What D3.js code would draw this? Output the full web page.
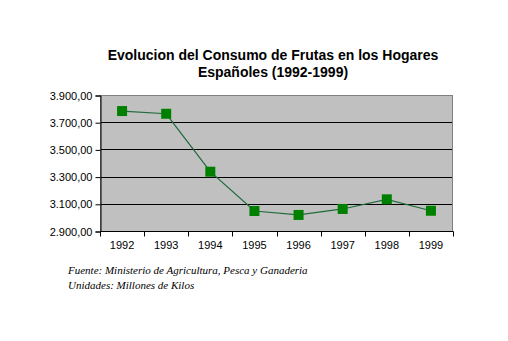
<!DOCTYPE html>
<html><head><meta charset="utf-8">
<script src="https://cdn.jsdelivr.net/npm/d3@7"></script>
<style>body{margin:0;background:#fff}svg{display:block}</style>
</head><body>
<script>
const years = ["1992","1993","1994","1995","1996","1997","1998","1999"];
const consumo = [3782, 3762, 3336, 3047, 3018, 3062, 3133, 3049];
const yTicks = [2900, 3100, 3300, 3500, 3700, 3900];
const titleLines = ["Evolucion del Consumo de Frutas en los Hogares", "Españoles (1992-1999)"];
const notes = ["Fuente: Ministerio de Agricultura, Pesca y Ganaderia", "Unidades: Millones de Kilos"];

const W = 508, H = 341;
const svg = d3.select("body").append("svg").attr("width", W).attr("height", H);
const L = 100, R = 453, T = 95, B = 231;
const x = d3.scaleBand().domain(years).range([L, R]);
const y = d3.scaleLinear().domain([2900, 3900]).range([B, T]);
const fmt = v => d3.format(",.2f")(v).replace(/,/g, "#").replace(/\./g, ",").replace(/#/g, ".");

// title
svg.append("g").selectAll("text").data(titleLines).join("text")
  .attr("x", 273).attr("y", (d, i) => 59.5 + i * 17)
  .attr("text-anchor", "middle").attr("font-family", "Arial, 'Liberation Sans', sans-serif")
  .attr("font-weight", "bold").attr("font-size", 14).text(d => d);

// plot area
svg.append("rect").attr("x", L).attr("y", T).attr("width", R - L).attr("height", B - T)
  .attr("fill", "#c0c0c0");
// gridlines
svg.append("g").selectAll("line").data(yTicks.slice(1, -1)).join("line")
  .attr("x1", L).attr("x2", R).attr("y1", d => Math.round(y(d)) + 0.5).attr("y2", d => Math.round(y(d)) + 0.5)
  .attr("stroke", "#000").attr("stroke-width", 1);
svg.append("rect").attr("x", L + 0.5).attr("y", T + 0.5).attr("width", R - L - 1).attr("height", B - T)
  .attr("fill", "none").attr("stroke", "#808080").attr("stroke-width", 1);

// y axis
const yAxis = d3.axisLeft(y).tickValues(yTicks).tickFormat(fmt).tickSize(5).tickPadding(3);
const gy = svg.append("g").attr("transform", `translate(${L + 0.5},0.5)`).call(yAxis);
gy.select(".domain").attr("stroke", "#000");
gy.selectAll(".tick line").attr("stroke", "#000");
gy.selectAll("text").attr("font-family", "Arial, 'Liberation Sans', sans-serif").attr("font-size", 11).attr("fill", "#000");

// x axis
const xTickScale = d3.scaleLinear().domain([0, years.length]).range([L, R]);
const gx = svg.append("g").attr("transform", `translate(0,${B + 0.5})`);
gx.append("line").attr("x1", L).attr("x2", R + 0.5).attr("stroke", "#000");
gx.selectAll("line.t").data(d3.range(years.length + 1)).join("line").attr("class", "t")
  .attr("x1", d => Math.round(xTickScale(d)) + 0.5).attr("x2", d => Math.round(xTickScale(d)) + 0.5)
  .attr("y1", 0).attr("y2", 5).attr("stroke", "#000");
gx.selectAll("text").data(years).join("text")
  .attr("x", d => x(d) + x.bandwidth() / 2).attr("y", 17)
  .attr("text-anchor", "middle").attr("font-family", "Arial, 'Liberation Sans', sans-serif")
  .attr("font-size", 11).attr("fill", "#000").text(d => d);

// line
const pts = years.map((yr, i) => [x(yr) + x.bandwidth() / 2, y(consumo[i])]);
svg.append("path").attr("d", d3.line()(pts)).attr("fill", "none")
  .attr("stroke", "#1e6b3c").attr("stroke-width", 1.2);
svg.append("g").selectAll("rect").data(pts).join("rect")
  .attr("x", d => d[0] - 5).attr("y", d => d[1] - 5).attr("width", 10).attr("height", 10)
  .attr("fill", "#008000");

// notes
svg.append("g").selectAll("text").data(notes).join("text")
  .attr("x", 68).attr("y", (d, i) => 274 + i * 15)
  .attr("font-family", "'Times New Roman', 'Liberation Serif', serif").attr("font-style", "italic")
  .attr("font-size", 11).attr("fill", "#000").text(d => d);
</script>
</body></html>
